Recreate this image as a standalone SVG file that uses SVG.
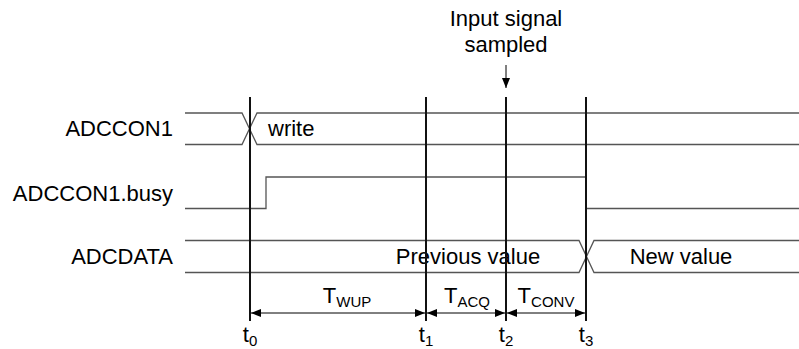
<svg xmlns="http://www.w3.org/2000/svg" width="799" height="349" viewBox="0 0 799 349">
<defs>
<marker id="ah" viewBox="0 0 10 8" refX="10" refY="4" markerWidth="10" markerHeight="8" markerUnits="userSpaceOnUse" orient="auto-start-reverse">
<path d="M0,0 L10,4 L0,8 Z" fill="#000"/>
</marker>
</defs>
<style>
text{font-family:"Liberation Sans",Arial,sans-serif;font-size:22px;fill:#000}
.sub{font-size:15px}
.sig{fill:none;stroke:#555;stroke-width:1.3}
.mark{stroke:#111;stroke-width:2}
.dim{stroke:#000;stroke-width:1;fill:none}
</style>
<rect width="799" height="349" fill="#fff"/>
<g id="adccon1">
<text x="173" y="136" text-anchor="end">ADCCON1</text>
<path class="sig" d="M185,113 H242 L257,144.5 H799 M185,144.5 H242 L257,113 H799"/>
<text x="268" y="136">write</text>
</g>
<g id="busy">
<text x="173" y="201" text-anchor="end">ADCCON1.busy</text>
<path class="sig" d="M185,208.5 H266 V177 H586 V208.5 H799"/>
</g>
<g id="adcdata">
<text x="173" y="264" text-anchor="end">ADCDATA</text>
<path class="sig" d="M185,240.5 H579 L594,272.5 H799 M185,272.5 H579 L594,240.5 H799"/>
<text x="468" y="264" text-anchor="middle">Previous value</text>
<text x="681" y="264" text-anchor="middle">New value</text>
</g>
<g id="time-marks">
<line class="mark" x1="250" y1="97" x2="250" y2="321"/>
<line class="mark" x1="426" y1="97" x2="426" y2="321"/>
<line class="mark" x1="506" y1="97" x2="506" y2="321"/>
<line class="mark" x1="586" y1="97" x2="586" y2="321"/>
<text x="250" y="342" text-anchor="middle">t<tspan class="sub" dy="4">0</tspan></text>
<text x="426" y="342" text-anchor="middle">t<tspan class="sub" dy="4">1</tspan></text>
<text x="506" y="342" text-anchor="middle">t<tspan class="sub" dy="4">2</tspan></text>
<text x="586" y="342" text-anchor="middle">t<tspan class="sub" dy="4">3</tspan></text>
</g>
<g id="sample-label">
<text x="506" y="26" text-anchor="middle">Input signal</text>
<text x="506" y="52" text-anchor="middle">sampled</text>
</g>
<g id="connectors">
<line class="dim" x1="506" y1="65" x2="506" y2="88" marker-end="url(#ah)"/>
<line class="dim" x1="251" y1="313" x2="425" y2="313" marker-start="url(#ah)" marker-end="url(#ah)"/>
<line class="dim" x1="427" y1="313" x2="505" y2="313" marker-start="url(#ah)" marker-end="url(#ah)"/>
<line class="dim" x1="507" y1="313" x2="585" y2="313" marker-start="url(#ah)" marker-end="url(#ah)"/>
</g>
<g id="durations">
<text x="347" y="303" text-anchor="middle">T<tspan class="sub" dy="3.5">WUP</tspan></text>
<text x="467" y="303" text-anchor="middle">T<tspan class="sub" dy="3.5">ACQ</tspan></text>
<text x="546" y="303" text-anchor="middle">T<tspan class="sub" dy="3.5">CONV</tspan></text>
</g>
</svg>
